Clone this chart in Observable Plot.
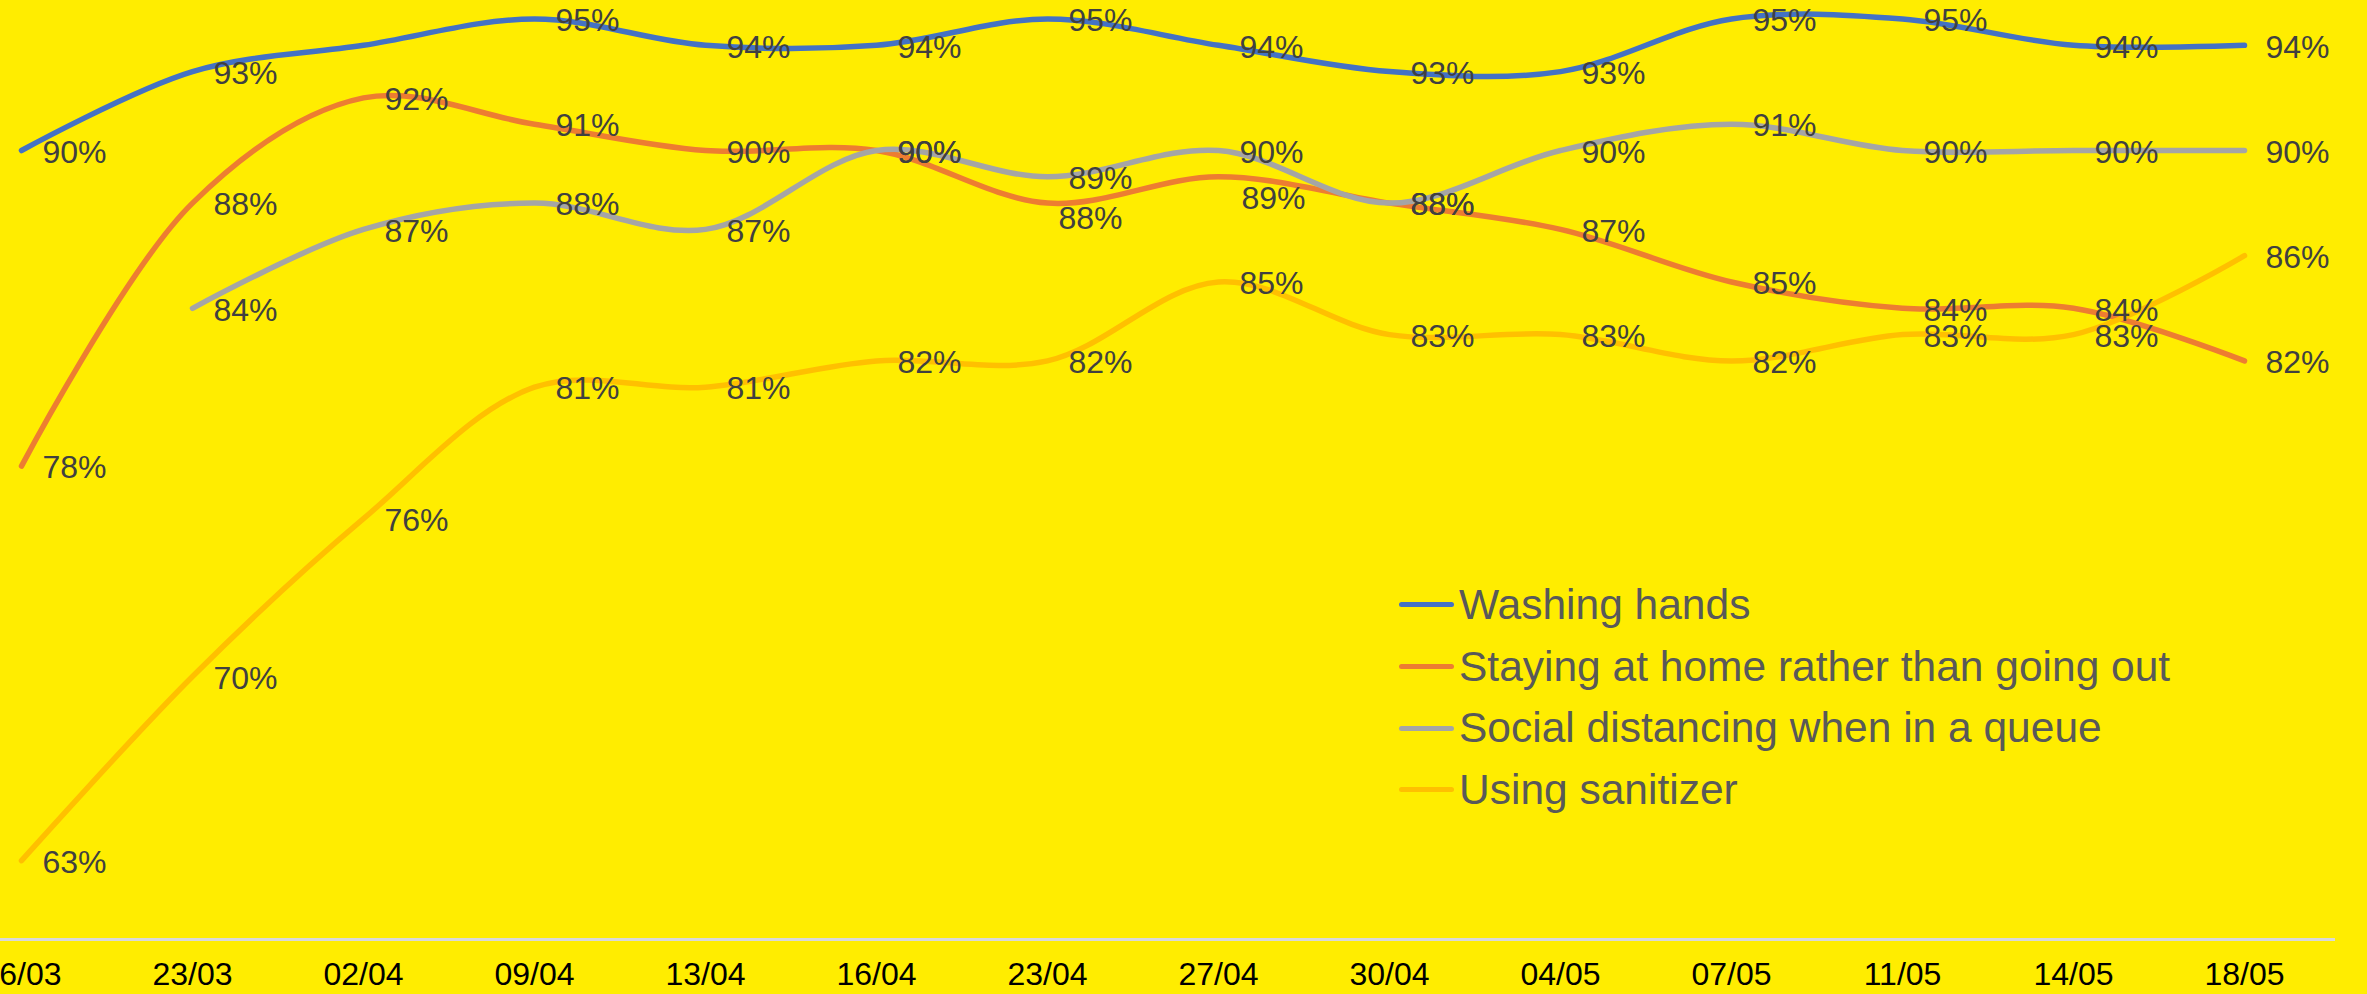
<!DOCTYPE html>
<html>
<head>
<meta charset="utf-8">
<script src="https://cdn.jsdelivr.net/npm/d3@7"></script>
<script src="https://cdn.jsdelivr.net/npm/@observablehq/plot@0.6"></script>
<style>
  html, body { margin: 0; padding: 0; background: #FFED00; }
  #wrap { position: relative; width: 2367px; height: 994px; overflow: hidden; background: #FFED00; }
  #legend { position: absolute; left: 1399px; top: 574px; font-family: "Liberation Sans", Arial, sans-serif; font-size: 42.5px; color: #595959; }
  #legend .row { display: flex; align-items: center; height: 61.7px; white-space: nowrap; }
  #legend .sw { width: 55px; height: 5px; border-radius: 3px; margin-right: 5px; }
</style>
</head>
<body>
<div id="wrap"></div>
<script>
const dates = ["16/03","23/03","02/04","09/04","13/04","16/04","23/04","27/04","30/04","04/05","07/05","11/05","14/05","18/05"];
const seriesNames = ["Washing hands","Staying at home rather than going out","Social distancing when in a queue","Using sanitizer"];
const seriesColors = ["#4472C4","#ED7D31","#A5A5A5","#FFC000"];
const washingHands     = [90,93,94,95,94,94,95,94,93,93,95,95,94,94];
const stayingHome      = [78,88,92,91,90,90,88,89,88,87,85,84,84,82];
const socialDistancing = [null,84,87,88,87,90,89,90,88,90,91,90,90,90];
const usingSanitizer   = [63,70,76,81,81,82,82,85,83,83,82,83,83,86];
// data labels that are not shown / shown lower in the original
const hiddenLabels = [["Washing hands","02/04"]];
const loweredLabels = [["Staying at home rather than going out","23/04"],["Staying at home rather than going out","27/04"]];

const values = [washingHands, stayingHome, socialDistancing, usingSanitizer];
const rows = [];
seriesNames.forEach((s, i) => dates.forEach((d, j) => rows.push({series: s, date: d, value: values[i][j]})));

const isIn = (list, d) => list.some(([s, dt]) => s === d.series && dt === d.date);
const labelRows = rows.filter(d => d.value != null && !isIn(hiddenLabels, d));
const normalLabels = labelRows.filter(d => !isIn(loweredLabels, d));
const low1 = labelRows.filter(d => isIn([loweredLabels[0]], d));
const low2 = labelRows.filter(d => isIn([loweredLabels[1]], d));

const font = "Liberation Sans, Arial, sans-serif";
const labelStyle = {x: "date", y: "value", text: d => d.value + "%", textAnchor: "start", fill: "#404040", fontSize: 32, fontFamily: font};

const chart = Plot.plot({
  width: 2367,
  height: 994,
  marginLeft: 0,
  marginRight: 32,
  marginTop: 18,
  marginBottom: 55,
  style: {background: "#FFED00", fontFamily: font, fontSize: "32px", color: "black", overflow: "hidden"},
  x: {type: "point", domain: dates, range: [17, 2248], padding: 0, label: null, tickSize: 0, tickPadding: 23},
  y: {domain: [60, 95], range: [939, 18.5], axis: null},
  color: {domain: seriesNames, range: seriesColors},
  marks: [
    Plot.ruleY([60], {stroke: "#D9D9D9", strokeWidth: 3}),
    Plot.line(rows, {x: "date", y: "value", z: "series", stroke: "series", strokeWidth: 5.5, curve: "catmull-rom", strokeLinecap: "round"}),
    Plot.text(normalLabels, {...labelStyle, dx: 21, dy: 2}),
    Plot.text(low1, {...labelStyle, dx: 11, dy: 16}),
    Plot.text(low2, {...labelStyle, dx: 23, dy: 22})
  ]
});

const wrap = document.getElementById("wrap");
wrap.appendChild(chart);

const legend = document.createElement("div");
legend.id = "legend";
seriesNames.forEach((s, i) => {
  const row = document.createElement("div");
  row.className = "row";
  const sw = document.createElement("div");
  sw.className = "sw";
  sw.style.background = seriesColors[i];
  const t = document.createElement("span");
  t.textContent = s;
  row.appendChild(sw);
  row.appendChild(t);
  legend.appendChild(row);
});
wrap.appendChild(legend);
</script>
</body>
</html>
